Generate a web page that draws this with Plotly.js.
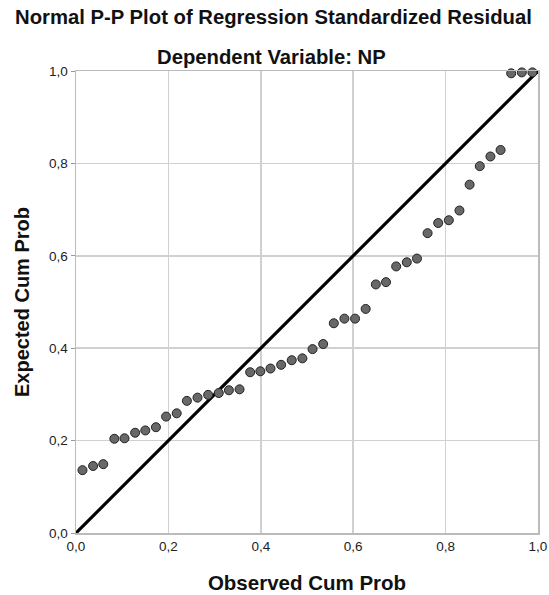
<!DOCTYPE html>
<html>
<head>
<meta charset="utf-8">
<script src="https://cdn.plot.ly/plotly-3.0.1.min.js"></script>
<style>html,body{margin:0;padding:0;background:#fff;}#chart{width:549px;height:595px;}</style>
</head>
<body>
<div id="chart"></div>
<script>
const observedCumProb = [0.014,0.037,0.059,0.083,0.105,0.128,0.150,0.173,0.195,0.218,0.240,0.263,0.286,0.309,0.331,0.354,0.377,0.399,0.421,0.444,0.467,0.490,0.512,0.535,0.558,0.581,0.604,0.627,0.649,0.671,0.693,0.716,0.738,0.761,0.784,0.807,0.830,0.852,0.874,0.897,0.919,0.942,0.965,0.988];
const expectedCumProb = [0.136,0.145,0.149,0.204,0.205,0.217,0.222,0.229,0.252,0.259,0.286,0.293,0.299,0.303,0.309,0.311,0.348,0.350,0.356,0.364,0.374,0.378,0.398,0.409,0.454,0.464,0.464,0.485,0.538,0.543,0.577,0.586,0.594,0.649,0.671,0.677,0.698,0.754,0.794,0.815,0.829,0.995,0.997,0.997];
const refLine = [0, 1];
const tickVals = [0, 0.2, 0.4, 0.6, 0.8, 1.0];
const tickText = ['0,0', '0,2', '0,4', '0,6', '0,8', '1,0'];

const font = 'Arial, "Liberation Sans", sans-serif';
const data = [
  {x: refLine, y: refLine, mode: 'lines', line: {color: '#000', width: 3.2}, hoverinfo: 'skip', cliponaxis: false},
  {x: observedCumProb, y: expectedCumProb, mode: 'markers', cliponaxis: false,
   marker: {size: 9, color: '#686868', line: {color: '#222', width: 1}}}
];
const layout = {
  width: 549, height: 595, showlegend: false,
  paper_bgcolor: '#fff', plot_bgcolor: '#fff',
  margin: {l: 76, r: 11, t: 71, b: 62},
  font: {family: font, color: '#000'},
  annotations: [
    {text: '<b>Normal P-P Plot of Regression Standardized Residual</b>', xref: 'paper', yref: 'paper', x: 0.428, y: 1, yshift: 54, xanchor: 'center', yanchor: 'middle', showarrow: false, font: {size: 20.3, family: font, color: '#111'}},
    {text: '<b>Dependent Variable: NP</b>', xref: 'paper', yref: 'paper', x: 0.423, y: 1, yshift: 14, xanchor: 'center', yanchor: 'middle', showarrow: false, font: {size: 20.3, family: font, color: '#111'}}
  ],
  xaxis: {
    range: [0, 1], tickvals: tickVals, ticktext: tickText, tickfont: {size: 13.5, color: '#222'},
    showgrid: true, gridcolor: '#d0d0d0', gridwidth: 1.5, zeroline: false,
    showline: true, linecolor: '#bbbbbb', linewidth: 1.5, mirror: true, ticks: '', fixedrange: true,
    title: {text: '<b>Observed Cum Prob</b>', font: {size: 20.5, color: '#111'}, standoff: 23}
  },
  yaxis: {
    range: [0, 1], tickvals: tickVals, ticktext: tickText, tickfont: {size: 13.5, color: '#222'},
    showgrid: true, gridcolor: '#d0d0d0', gridwidth: 1.5, zeroline: false,
    showline: true, linecolor: '#bbbbbb', linewidth: 1.5, mirror: true, ticks: 'outside', ticklen: 4, tickcolor: '#999', fixedrange: true,
    title: {text: '<b>Expected Cum Prob</b>', font: {size: 20, color: '#111'}, standoff: 14}
  }
};
Plotly.newPlot('chart', data, layout, {displayModeBar: false, staticPlot: true});
</script>
</body>
</html>
